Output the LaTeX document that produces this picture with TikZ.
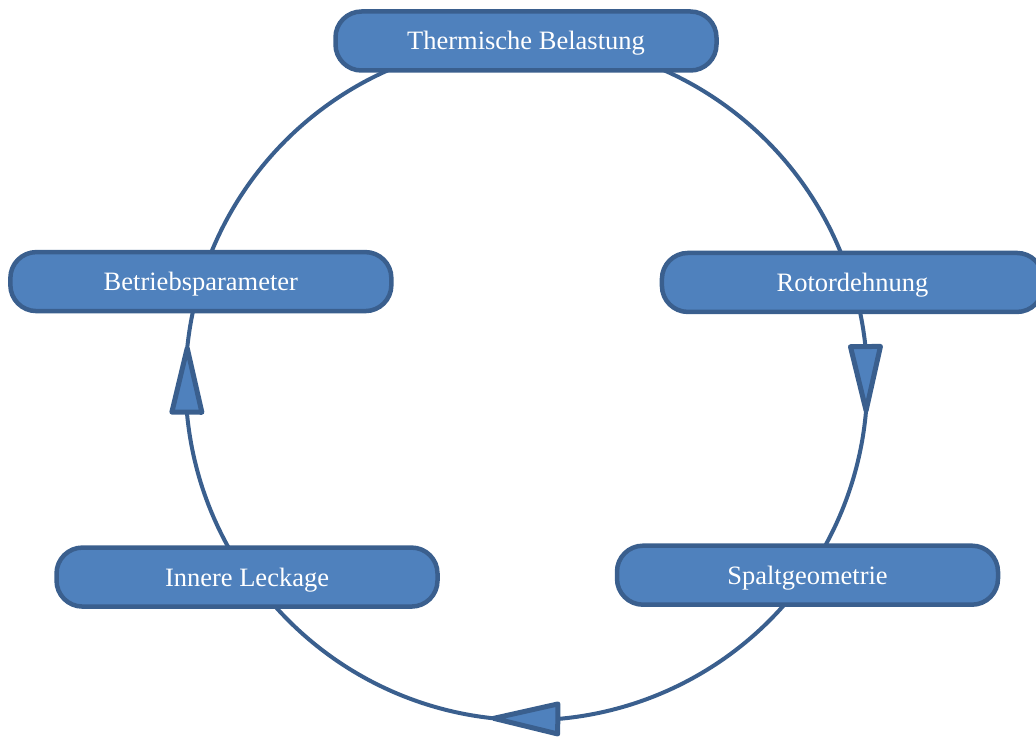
\documentclass[tikz,border=0pt]{standalone}
\usepackage{fontspec}
\setmainfont{Liberation Serif}
\usetikzlibrary{calc,decorations.markings}
\definecolor{boxfill}{HTML}{4F81BD}
\definecolor{boxline}{HTML}{3A5F8E}
\pgfdeclarelayer{back}
\pgfsetlayers{back,main}
\begin{document}
\begin{tikzpicture}[x=1pt,y=1pt,
  stage/.style={draw=boxline, fill=boxfill, line width=4.5pt, rounded corners=26pt,
    minimum width=381pt, minimum height=59pt, inner sep=0pt,
    text height=18pt, text depth=0pt,
    text=white, font=\fontsize{26.5}{30}\selectfont},
  cycleline/.style={draw=boxline, line width=4pt},
  % triangular head sitting on the arc, its base and tip both on the circle
  midtip/.style={postaction={decorate}, decoration={markings,
    mark=at position #1 with {\filldraw[fill=boxfill, draw=boxline, line width=5pt,
      line join=round, rotate=5.4] (0pt,0pt) -- (-64pt,15pt) -- (-64pt,-15pt) -- cycle;}}}
]
\useasboundingbox (0,0) rectangle (1036,-738);
\clip (0,0) rectangle (1036,-738);
\coordinate (c) at (526,-381);
% five stages placed round one circle
\node[stage] (therm)   at ($(c)+(90:340)$)     {Thermische Belastung};
\node[stage] (rotor)   at ($(c)+(16.8:341)$)   {Rotordehnung};
\node[stage] (spalt)   at ($(c)+(-34.6:342)$)  {Spaltgeometrie};
\node[stage] (leck)    at ($(c)+(215.1:341)$)  {Innere Leckage};
\node[stage] (betrieb) at ($(c)+(163:340)$)    {Betriebsparameter};
% circular connectors, running clockwise behind the stages
\begin{pgfonlayer}{back}
  \draw[cycleline] (therm.center) arc[start angle=90, end angle=17, radius=340];
  \draw[cycleline, midtip=0.42] (rotor.center) arc[start angle=17, end angle=-35, radius=340];
  \draw[cycleline, midtip=0.554] (spalt.center) arc[start angle=-35, end angle=-145, radius=340];
  \draw[cycleline, midtip=0.783] (leck.center) arc[start angle=215, end angle=163, radius=340];
  \draw[cycleline] (betrieb.center) arc[start angle=163, end angle=90, radius=340];
\end{pgfonlayer}
\end{tikzpicture}
\end{document}
